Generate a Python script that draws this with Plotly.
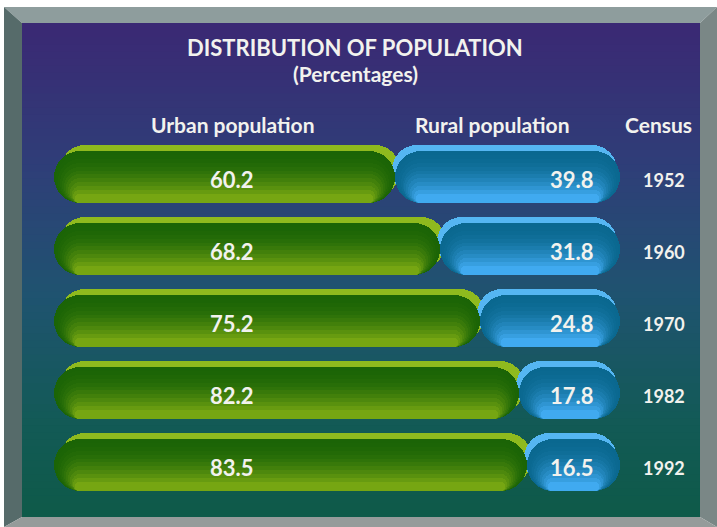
import plotly.graph_objects as go

# ---- data ----
years = ["1952", "1960", "1970", "1982", "1992"]
urban = [60.2, 68.2, 75.2, 82.2, 83.5]
rural = [39.8, 31.8, 24.8, 17.8, 16.5]

W, H = 717, 527
FONT = "Lato"
rows = list(range(len(years)))

X0_PX, X1_PX = 54, 620       # plot area (x axis 0..100)
Y0_PX, Y1_PX = 141, 501      # plot area (rows)
PX_PER_UNIT = (X1_PX - X0_PX) / 100
PX_PER_ROW = (Y1_PX - Y0_PX) / len(years)


def px(x):
    return x / W


def py(y):
    return 1 - y / H


def hexmix(c1, c2, t):
    a = [int(c1[i:i + 2], 16) for i in (1, 3, 5)]
    b = [int(c2[i:i + 2], 16) for i in (1, 3, 5)]
    return "#" + "".join(f"{round(a[k] + (b[k] - a[k]) * t):02x}" for k in range(3))


fig = go.Figure()

BAR_W = 0.72
FRONT_OFF = -BAR_W / 2
BACK_OFF = FRONT_OFF - 0.09
R_PX = BAR_W * PX_PER_ROW / 2


def add_pill(starts, ends, color, offset, width=BAR_W, inset=0.0):
    common = dict(y=rows, orientation="h", width=width, offset=offset,
                  marker=dict(color=color, cornerradius="50%", line=dict(width=0)),
                  hoverinfo="skip", showlegend=False)
    fig.add_trace(go.Bar(base=[s + inset for s in starts],
                         x=[e - s - 2 * inset for s, e in zip(starts, ends)], **common))


def add_gradient_pill(starts, ends, top_col, bot_col, layers=12, gamma=1.9):
    bottom = FRONT_OFF + BAR_W
    for k in range(layers):
        frac = 1 - 0.9 * k / layers
        w = BAR_W * frac
        r_k = R_PX * frac
        inset = (R_PX - r_k) / PX_PER_UNIT
        col = hexmix(top_col, bot_col, (k / (layers - 1)) ** gamma)
        add_pill(starts, ends, col, bottom - w, width=w, inset=inset)


zeros = [0 for _ in urban]
totals = [u + r for u, r in zip(urban, rural)]
# back (3D rim) layers
add_pill([z + 1.0 for z in zeros], [u + 1.0 for u in urban], "#8fba1e", BACK_OFF)
add_pill([u - 0.5 for u in urban], [t - 0.5 for t in totals], "#55b6f2", BACK_OFF)
# front layers with vertical shading
add_gradient_pill(zeros, urban, "#1b6406", "#76a612")
add_gradient_pill(urban, totals, "#0a6890", "#40aaf0")

# ---- background panel gradient and bevel frame ----
shapes = []
stops = [(0.0, "#3b2874"), (0.3, "#2e3f78"), (0.55, "#1f5370"), (0.8, "#135a57"), (1.0, "#0e5a48")]
N = 70
top, bot, left, right = 23, 517, 22, 700
for i in range(N):
    t = (i + 0.5) / N
    for j in range(len(stops) - 1):
        if stops[j][0] <= t <= stops[j + 1][0]:
            tt = (t - stops[j][0]) / (stops[j + 1][0] - stops[j][0])
            col = hexmix(stops[j][1], stops[j + 1][1], tt)
            break
    y0 = top + (bot - top) * i / N
    y1 = min(bot, top + (bot - top) * (i + 1) / N + 2)
    shapes.append(dict(type="rect", xref="paper", yref="paper", layer="below",
                       x0=px(left), x1=px(right), y0=py(y0), y1=py(y1),
                       fillcolor=col, line=dict(width=0)))


def poly(pts, color):
    d = "M " + " L ".join(f"{px(x):.5f},{py(y):.5f}" for x, y in pts) + " Z"
    return dict(type="path", xref="paper", yref="paper", layer="below", path=d,
                fillcolor=color, line=dict(width=0))


OX0, OY0, OX1, OY1 = 4, 7, 717, 527
shapes.append(poly([(OX0, OY0), (OX1, OY0), (right, top), (left, top)], "#8e9d9d"))
shapes.append(poly([(OX0, OY0), (left, top), (left, bot), (OX0, OY1)], "#566b6a"))
shapes.append(poly([(OX1, OY0), (OX1, OY1), (right, bot), (right, top)], "#7a8786"))
shapes.append(poly([(OX0, OY1), (left, bot), (right, bot), (OX1, OY1)], "#959b9a"))

# ---- text ----
ann = []
TXT = "#f2f2ee"


def text(x, y, s, size):
    ann.append(dict(x=px(x), y=py(y), xref="paper", yref="paper", text=s, showarrow=False,
                    xanchor="center", yanchor="middle",
                    font=dict(family=FONT, size=size, color=TXT, weight="bold")))


text(355, 47, "DISTRIBUTION OF POPULATION", 22)
text(355, 74, "(Percentages)", 21)
text(233, 124, "Urban population", 21)
text(492, 124, "Rural population", 21)
text(658, 124, "Census", 21)

URBAN_LABEL_X = 31.5
for r_i, u, r in zip(rows, urban, rural):
    ann.append(dict(x=URBAN_LABEL_X, y=r_i, xref="x", yref="y", text=f"{u:.1f}", showarrow=False,
                    yshift=-2,
                    font=dict(family=FONT, size=22, color=TXT, weight="bold")))
    ann.append(dict(x=u + r, y=r_i, xref="x", yref="y", text=f"{r:.1f}", showarrow=False,
                    xanchor="right", xshift=-24, yshift=-2,
                    font=dict(family=FONT, size=22, color=TXT, weight="bold")))

fig.update_layout(
    width=W, height=H, margin=dict(l=0, r=0, t=0, b=0),
    paper_bgcolor="white", plot_bgcolor="rgba(0,0,0,0)",
    barmode="overlay", bargap=0,
    shapes=shapes, annotations=ann,
    xaxis=dict(domain=[px(X0_PX), px(X1_PX)], range=[0, 100], visible=False, fixedrange=True),
    yaxis=dict(domain=[py(Y1_PX), py(Y0_PX)], range=[len(years) - 0.5, -0.5],
               tickmode="array", tickvals=rows, ticktext=years, side="right",
               showgrid=False, zeroline=False, showline=False, ticks="",
               ticklabelstandoff=22, ticklabelshift=-4, fixedrange=True,
               tickfont=dict(family=FONT, size=18, color=TXT, weight="bold")),
)

post = ("document.body.style.margin='0';document.body.style.padding='0';"
        "var gd=document.getElementById('{plot_id}');gd.style.position='fixed';"
        "gd.style.left='0px';gd.style.top='0px';")
fig.write_html("out.html", post_script=post, config={"displayModeBar": False})
